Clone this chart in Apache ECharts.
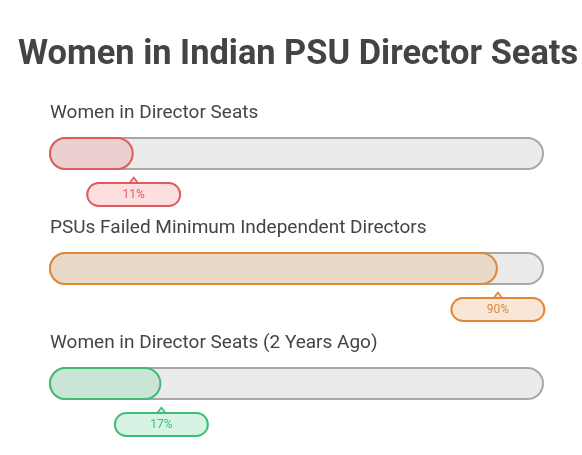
<!DOCTYPE html>
<html>
<head>
<meta charset="utf-8">
<script src="https://cdn.jsdelivr.net/npm/echarts@6/dist/echarts.min.js"></script>
<style>
  html, body { margin: 0; padding: 0; background: #fff; }
  #main { width: 582px; height: 455px; }
</style>
</head>
<body>
<div id="main"></div>
<script>
var categories = ['Women in Director Seats', 'PSUs Failed Minimum Independent Directors', 'Women in Director Seats (2 Years Ago)'];
var values = [11, 90, 17];
var lineColors = ['#e05c5c', '#e0883a', '#3dbd78'];
var fillColors = ['#ecd0d0', '#e9d9c8', '#cae4d6'];
var boxColors = ['#fddfdf', '#fae6d7', '#d7f3e4'];

// the rounded fill always keeps its end cap, so the scale starts one bar-height early
var cap = 100 * 34 / 461;

function showChart() {
    var dom = document.getElementById('main');
    var myChart = echarts.init(dom);

    var trackData = categories.map(function (c) { return 100 + cap; });
    var fillData = values.map(function (v, i) {
        return {
            value: v + cap,
            itemStyle: { color: fillColors[i], borderColor: lineColors[i] }
        };
    });
    var tagData = values.map(function (v, i) {
        return {
            value: [v + cap, i],
            itemStyle: { color: boxColors[i], borderColor: lineColors[i] },
            label: {
                formatter: v + '%',
                color: lineColors[i],
                backgroundColor: boxColors[i],
                borderColor: lineColors[i]
            }
        };
    });

    var option = {
        animation: false,
        title: {
            text: 'Women in Indian PSU Director Seats',
            left: 13,
            top: 33,
            textStyle: {
                fontFamily: 'Roboto',
                fontSize: 34.4,
                fontWeight: 'bold',
                color: '#444'
            }
        },
        grid: { left: 49, right: 38, top: 96, bottom: 14 },
        xAxis: {
            type: 'value',
            min: 0,
            max: 100 + cap,
            show: false
        },
        yAxis: {
            type: 'category',
            data: categories,
            inverse: true,
            show: false
        },
        series: [{
            type: 'bar',
            data: trackData,
            barWidth: 33,
            barGap: '-100%',
            itemStyle: {
                color: '#ebebeb',
                borderColor: '#a8a8a8',
                borderWidth: 2,
                borderRadius: 17
            },
            label: {
                show: true,
                position: [1, -24],
                align: 'left',
                verticalAlign: 'middle',
                fontFamily: 'Roboto',
                fontSize: 19,
                color: '#444',
                formatter: function (p) { return p.name; }
            },
            z: 1
        }, {
            type: 'bar',
            data: fillData,
            barWidth: 33,
            barGap: '-100%',
            itemStyle: { borderWidth: 2, borderRadius: 17 },
            z: 2
        }, {
            type: 'scatter',
            data: tagData,
            symbol: 'triangle',
            symbolSize: [9, 6],
            symbolOffset: [0, 27],
            itemStyle: { borderWidth: 1.5, opacity: 1 },
            label: {
                show: true,
                position: 'inside',
                offset: [0, 14],
                width: 91,
                height: 21,
                lineHeight: 21,
                align: 'center',
                verticalAlign: 'middle',
                borderWidth: 2,
                borderRadius: 11,
                fontFamily: 'Roboto',
                fontSize: 12
            },
            z: 3
        }]
    };

    if (option && typeof option === 'object') {
        myChart.setOption(option, true);
    }

    window.addEventListener('resize', function () {
        myChart.resize();
    });
}

showChart();
</script>
</body>
</html>
